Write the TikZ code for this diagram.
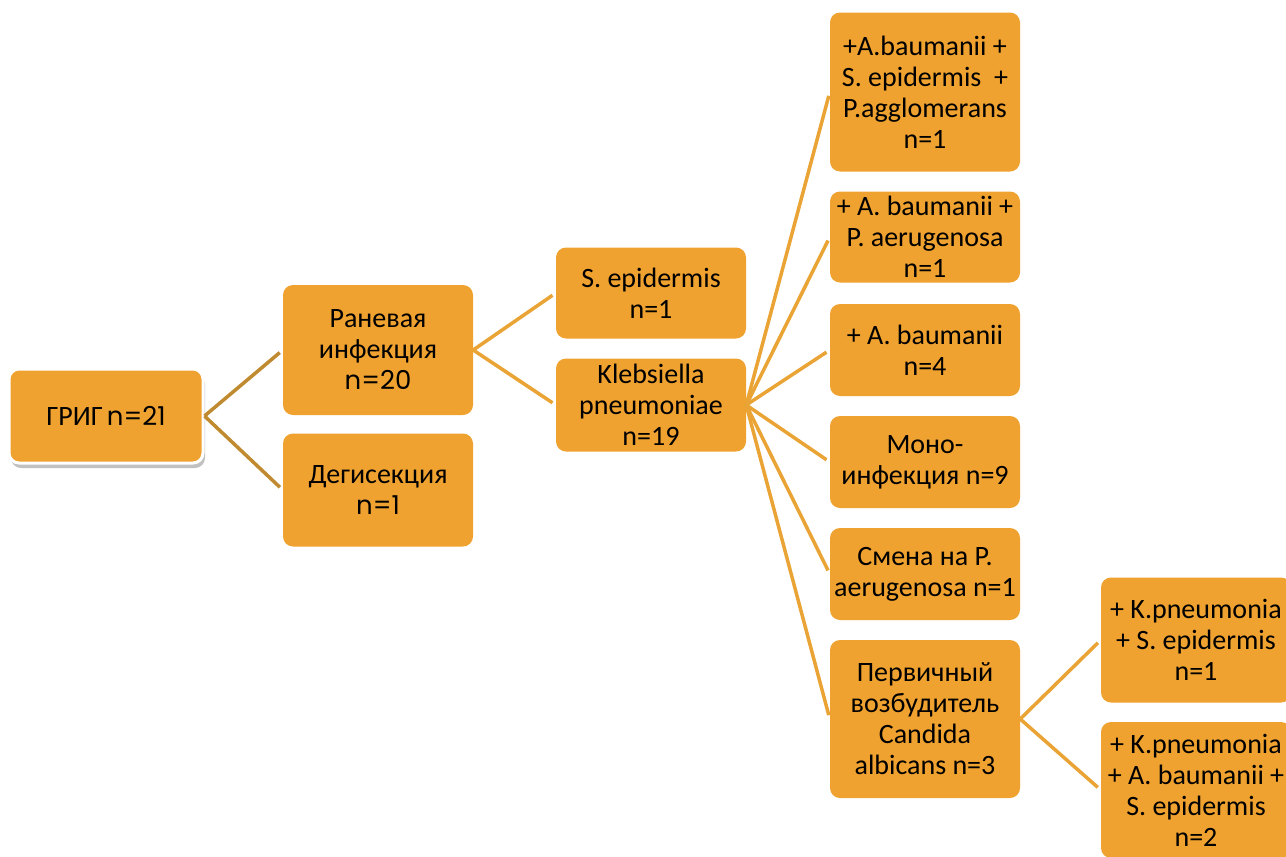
\documentclass[tikz,border=0pt]{standalone}
\usepackage{fontspec}
\setmainfont{Carlito}
\newfontfamily\gothic{Poppins}
\usetikzlibrary{shadows}
\definecolor{boxfill}{HTML}{EFA22F}
\definecolor{linedark}{HTML}{C08A30}
\definecolor{linelight}{HTML}{E9A435}
\newcommand{\gn}[1]{{\gothic\fontsize{26}{31}\selectfont #1}}
\tikzset{
  x=1pt, y=-1pt,
  box/.style={fill=boxfill, rounded corners=10pt, align=flush center, inner sep=0pt,
    minimum width=190pt, text width=188pt, font=\fontsize{28}{31}\selectfont},
  rootbox/.style={box, draw=white, line width=3pt, minimum width=194pt,
    drop shadow={shadow xshift=2pt, shadow yshift=-5pt, opacity=0.35, fill=black!70}},
  conn/.style={line width=3.5pt, shorten >=4pt},
  connd/.style={conn, draw=linedark},
  connl/.style={conn, draw=linelight},
}
\begin{document}
\begin{tikzpicture}
\useasboundingbox (0,0) rectangle (1286,857);
\clip (0,0) rectangle (1286,857);
\node[rootbox, minimum height=94pt] (root) at (106,416) {ГРИГ\hspace{4pt}\gn{n=21}};
\node[box, minimum height=130pt] (ran) at (378,350) {Раневая\\инфекция\\\gn{n=20}};
\node[box, minimum height=113pt] (deg) at (378,490) {Дегисекция\\\gn{n=1}};
\node[box, minimum height=91pt] (sep) at (651,293) {S. epidermis\\n=1};
\node[box, minimum height=93pt] (kle) at (651,405) {Klebsiella\\pneumoniae\\n=19};
\node[box, minimum height=159pt] (b1) at (925,92) {+A.baumanii +\\S. epidermis\ \ +\\P.agglomerans\\n=1};
\node[box, minimum height=91pt] (b2) at (925,237) {+ A. baumanii +\\P. aerugenosa\\n=1};
\node[box, minimum height=92pt] (b3) at (925,350) {+ A. baumanii\\n=4};
\node[box, minimum height=92pt] (b4) at (925,462) {Моно-\\инфекция n=9};
\node[box, minimum height=92pt] (b5) at (925,574) {Смена на P.\\aerugenosa n=1};
\node[box, minimum height=158pt] (b6) at (925,719) {Первичный\\возбудитель\\Candida\\albicans n=3};
\node[box, minimum height=125pt] (c1) at (1196,640) {+ K.pneumonia\\+ S. epidermis\\n=1};
\node[box, minimum height=136pt] (c2) at (1196,790) {+ K.pneumonia\\+ A. baumanii +\\S. epidermis\\n=2};
\draw[connd] (root.east) -- (ran.west);
\draw[connd] (root.east) -- (deg.west);
\draw[connl] (ran.east) -- (sep.west);
\draw[connl] (ran.east) -- (kle.west);
\foreach \b in {b1,b2,b3,b4,b5,b6}
  \draw[connl] (kle.east) -- (\b.west);
\draw[connl] (b6.east) -- (c1.west);
\draw[connl] (b6.east) -- (c2.west);
\end{tikzpicture}
\end{document}
